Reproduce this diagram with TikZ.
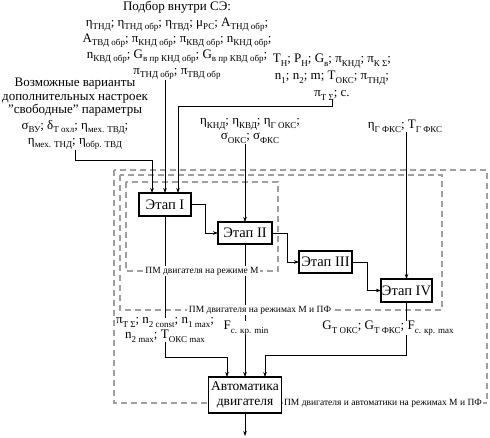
\documentclass[tikz,border=0pt]{standalone}
\usepackage{fontspec}
\setmainfont{Liberation Serif}
\usetikzlibrary{arrows.meta,calc,backgrounds}
\newcommand{\ssub}[1]{\raisebox{-0.28em}{\fontsize{9}{9}\selectfont #1}}
\begin{document}
\begin{tikzpicture}[x=1pt,y=-1pt,
  every node/.style={inner sep=0pt, outer sep=0pt},
  txt/.style={font=\fontsize{13}{16}\selectfont, align=center},
  stage/.style={draw, fill=white, line width=1.1pt, minimum width=52pt, minimum height=23pt, font=\fontsize{14.5}{16}\selectfont},
  conn/.style={line width=0.6pt},
  arr/.style={conn, -{Stealth[length=5pt,width=3.5pt]}},
  zone/.style={draw=gray!75, dash pattern=on 6pt off 4pt, line width=1.1pt},
  zonelbl/.style={fill=white, inner xsep=1.5pt, inner ysep=1pt, font=\fontsize{9.5}{10}\selectfont}
]
\useasboundingbox (0,0) rectangle (490,438);

% text blocks
\node[txt, anchor=north] (sel) at (177,1) {Подбор внутри СЭ:\\
 η\ssub{ТНД}; η\ssub{ТНД обр}; η\ssub{ТВД}; μ\ssub{РС}; A\ssub{ТНД обр};\\
 A\ssub{ТВД обр}; π\ssub{КНД обр}; π\ssub{КВД обр}; n\ssub{КНД обр};\\
 n\ssub{КВД обр}; G\ssub{в пр КНД обр}; G\ssub{в пр КВД обр};\\
 π\ssub{ТНД обр}; π\ssub{ТВД обр}};
\node[txt, anchor=north, font=\fontsize{13}{17}\selectfont] (env) at (332,54) {T\ssub{Н}; P\ssub{Н}; G\ssub{в}; π\ssub{КНД}; π\ssub{К Σ};\\
 n\ssub{1}; n\ssub{2}; m; T\ssub{ОКС}; π\ssub{ТНД};\\
 π\ssub{Т Σ}; c.};
\node[txt, anchor=north, font=\fontsize{13}{13.5}\selectfont] (free) at (75,78) {Возможные варианты\\
 дополнительных настроек\\
 "свободные" параметры\\[2pt]
 σ\ssub{ВУ}; δ\ssub{Т охл}; η\ssub{мех. ТВД};\\[1.5pt]
 η\ssub{мех. ТНД}; η\ssub{обр. ТВД}};
\node[txt, font=\fontsize{13}{15.5}\selectfont] (mid) at (250,131) {η\ssub{КНД}; η\ssub{КВД}; η\ssub{Г ОКС};\\ σ\ssub{ОКС}; σ\ssub{ФКС}};
\node[txt] (gfks) at (405,126) {η\ssub{Г ФКС}; T\ssub{Г ФКС}};

% stages
\node[stage] (e1) at (165,204.5) {Этап I};
\node[stage, minimum width=54pt, minimum height=22pt] (e2) at (245,233) {Этап II};
\node[stage, minimum width=53pt, minimum height=22pt] (e3) at (325.5,262) {Этап III};
\node[stage, minimum width=51pt] (e4) at (406.5,290.5) {Этап IV};
\node[stage, minimum width=73pt, minimum height=36pt, align=center, font=\fontsize{13.5}{15}\selectfont] (auto) at (245,395) {Автоматика\\двигателя};

% output texts
\node[txt, font=\fontsize{13}{15}\selectfont] (o1) at (165,330) {π\ssub{Т Σ}; n\ssub{2 const}; n\ssub{1 max};\\ n\ssub{2 max}; T\ssub{ОКС max}};
\node[txt] (o2) at (246,328) {F\ssub{с. кр. min}};
\node[txt] (o4) at (388,328) {G\ssub{Т ОКС}; G\ssub{Т ФКС}; F\ssub{с. кр. max}};
\coordinate (out) at (245,436);

% zones
\begin{scope}[on background layer]
\draw[zone] (126,182) rectangle (278,271);
\draw[zone] (120,175) rectangle (442,310);
\draw[zone] (114,170) rectangle (487,403);
\end{scope}

% inputs
\draw[arr] (free.south) -- ++(0,11) -| ($(e1.north)+(-13,0)$);
\draw[arr] (sel.south -| e1.north) -- (e1.north);
\draw[arr] (env.south) -- ++(0,6) -| ($(e1.north)+(13,0)$);
\draw[arr] (mid.south -| e2.north) -- (e2.north);
\draw[arr] (gfks.south -| e4.north) -- (e4.north);

% chain
\draw[arr] (e1.east) -- ++(14,0) |- (e2.west);
\draw[arr] (e2.east) -- ++(15,0) |- (e3.west);
\draw[arr] (e3.east) -- ++(15,0) |- (e4.west);

% outputs
\draw[conn] (e1.south) -- (e1.south |- o1.north);
\draw[arr] (e1.south |- o1.south) -- ++(0,15) -| ($(auto.north)+(-18,0)$);
\draw[conn] (e2.south) -- (e2.south |- o2.north);
\draw[arr] (e2.south |- o2.south) -- (auto.north);
\draw[conn] (e4.south) -- (e4.south |- o4.north);
\draw[arr] (e4.south |- o4.south) -- ++(0,20) -| ($(auto.north)+(20,0)$);
\draw[arr] (auto.south) -- (out);

% zone labels
\node[zonelbl] (zl1) at (202,271) {ПМ двигателя на режиме М};
\node[zonelbl] (zl2) at (260,310) {ПМ двигателя на режимах М и ПФ};
\node[zonelbl] (zl3) at (383,403) {ПМ двигателя и автоматики на режимах М и ПФ};
\end{tikzpicture}
\end{document}
